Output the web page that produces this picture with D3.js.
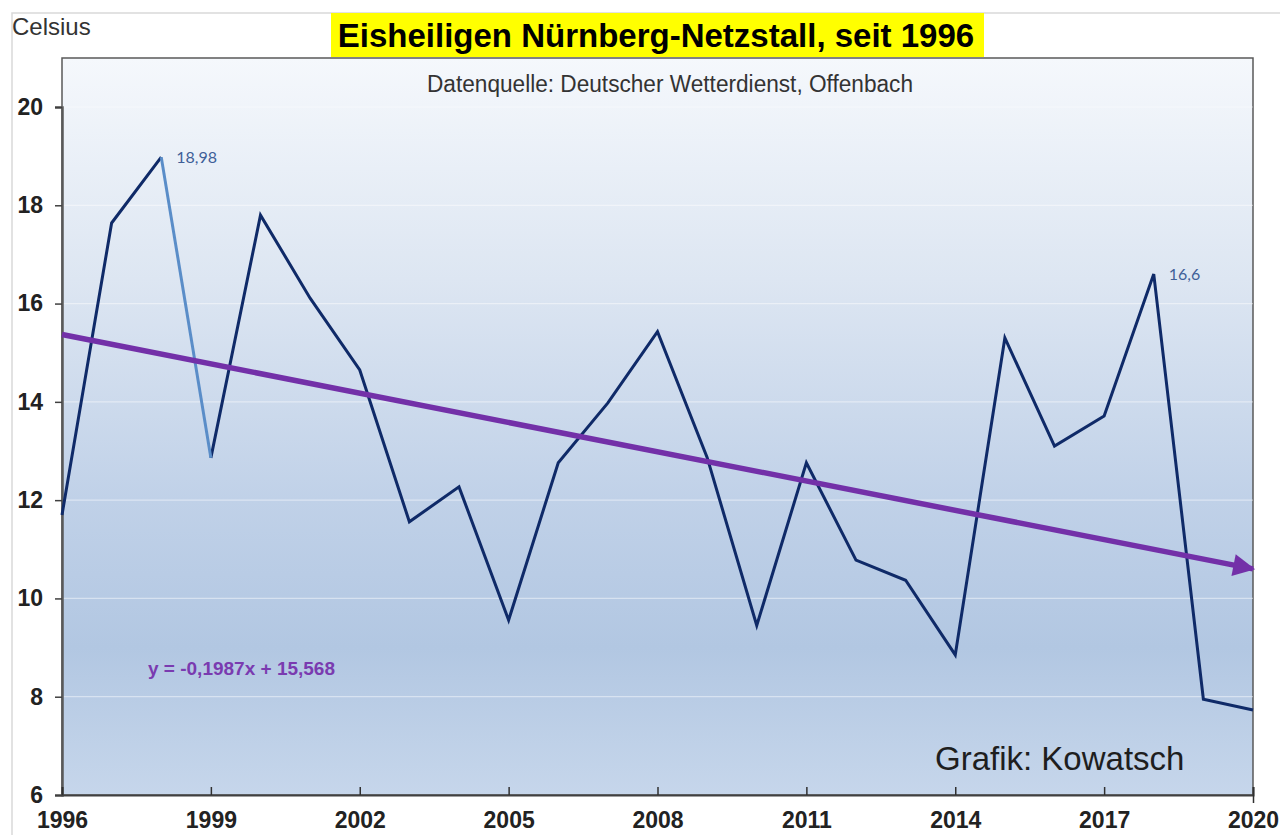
<!DOCTYPE html>
<html><head><meta charset="utf-8">
<script src="https://cdn.jsdelivr.net/npm/d3@7"></script>
<style>
html,body{margin:0;padding:0;background:#fff;}
svg{display:block;}
</style></head>
<body>
<svg id="chart" width="1280" height="835"></svg>
<script>
const years = [1996,1997,1998,1999,2000,2001,2002,2003,2004,2005,2006,2007,2008,2009,2010,2011,2012,2013,2014,2015,2016,2017,2018,2019,2020];
const temps = [11.7,17.64,18.98,12.86,17.8,16.11,14.65,11.56,12.27,9.56,12.76,13.98,15.43,12.87,9.45,12.76,10.78,10.37,8.85,15.3,13.1,13.71,16.6,7.95,7.73];
const xTicks = [1996,1999,2002,2005,2008,2011,2014,2017,2020];
const yTicks = [6,8,10,12,14,16,18,20];
const trendSlope = -0.1987, trendIntercept = 15.568;
const labelled = [{year:1998, text:"18,98"},{year:2018, text:"16,6"}];
const highlightYears = [1998,1999];
const titleText = "Eisheiligen Nürnberg-Netzstall, seit 1996";
const subtitleText = "Datenquelle: Deutscher Wetterdienst, Offenbach";
const equationText = "y = -0,1987x + 15,568";
const creditText = "Grafik: Kowatsch";
const unitText = "Celsius";

const svg = d3.select("#chart");
const L=62, R=1253, T=58, B=795;
const x = d3.scaleLinear().domain([1996,2020]).range([L,R]);
const y = d3.scaleLinear().domain([6,20]).range([B,107]);
const FONT = "Liberation Sans, Arial, sans-serif";

const defs = svg.append("defs");
const g = defs.append("linearGradient").attr("id","bg").attr("x1",0).attr("y1",0).attr("x2",0).attr("y2",1);
[[0,"#f5f8fc"],[0.3,"#dde6f2"],[0.6,"#c0d1e8"],[0.8,"#b2c7e2"],[1,"#c6d6eb"]].forEach(s=>g.append("stop").attr("offset",s[0]).attr("stop-color",s[1]));
const mk = defs.append("marker").attr("id","arrow").attr("viewBox","0 0 10 10").attr("refX",9).attr("refY",5)
  .attr("markerWidth",5).attr("markerHeight",4).attr("markerUnits","strokeWidth").attr("orient","auto");
mk.append("path").attr("d","M0,0 L10,5 L0,10 z").attr("fill","#7330a8");

// outer frame
svg.append("rect").attr("x",12).attr("y",13).attr("width",1290).attr("height",840).attr("fill","#fff").attr("stroke","#d9d9d9").attr("stroke-width",1.5);

// plot area
svg.append("rect").attr("x",L).attr("y",T).attr("width",R-L).attr("height",B-T).attr("fill","url(#bg)").attr("stroke","#595959").attr("stroke-width",1.5);

// gridlines
svg.append("g").selectAll("line").data(yTicks.filter(d=>d>6)).join("line")
  .attr("x1",L).attr("x2",R).attr("y1",d=>y(d)).attr("y2",d=>y(d))
  .attr("stroke","#ffffff").attr("stroke-opacity",0.45).attr("stroke-width",1.2);

// axes
const yAxis = svg.append("g").attr("transform",`translate(${L},0)`)
  .call(d3.axisLeft(y).tickValues(yTicks).tickSize(7).tickPadding(12).tickFormat(d3.format("d")));
yAxis.select(".domain").attr("stroke","#595959").attr("stroke-width",2.5);
yAxis.selectAll(".tick line").attr("stroke","#404040").attr("stroke-width",1.5);
yAxis.selectAll("text").attr("font-family",FONT).attr("font-weight","bold").attr("font-size","23px").attr("fill","#222");

const xAxis = svg.append("g").attr("transform",`translate(0,${B})`)
  .call(d3.axisBottom(x).tickValues(xTicks).tickSize(-8).tickPadding(17).tickFormat(d3.format("d")));
xAxis.select(".domain").attr("stroke","#404040").attr("stroke-width",2);
xAxis.selectAll(".tick line").attr("stroke","#303030").attr("stroke-width",1.5);
xAxis.selectAll(".tick").filter(d=>d===2020).select("line").attr("y2",-8).attr("y1",8);
xAxis.selectAll("text").attr("font-family",FONT).attr("font-weight","bold").attr("font-size","23px").attr("fill","#222");

// data line
const pts = years.map((yr,i)=>({yr, v:temps[i]}));
const line = d3.line().x(d=>x(d.yr)).y(d=>y(d.v));
const hA = highlightYears[0], hB = highlightYears[1];
svg.append("path").datum(pts.filter(d=>d.yr<=hA)).attr("d",line).attr("fill","none").attr("stroke","#0f2a68").attr("stroke-width",3);
svg.append("path").datum(pts.filter(d=>d.yr>=hB)).attr("d",line).attr("fill","none").attr("stroke","#0f2a68").attr("stroke-width",3);
svg.append("path").datum(pts.filter(d=>d.yr>=hA&&d.yr<=hB)).attr("d",line).attr("fill","none").attr("stroke","#5a8dc8").attr("stroke-width",3);

// trend line
const tr = [years[0], years[years.length-1]].map(yr=>({yr, v: trendSlope*(yr-1995)+trendIntercept}));
svg.append("path").datum(tr).attr("d",line).attr("fill","none").attr("stroke","#7330a8").attr("stroke-width",5.5).attr("marker-end","url(#arrow)");

// data labels
svg.append("g").selectAll("text").data(labelled).join("text")
  .attr("x",d=>x(d.year)+15).attr("y",d=>y(temps[years.indexOf(d.year)])+6)
  .attr("font-family","Lato, Open Sans, sans-serif").attr("font-size","16px").attr("fill","#3f5f98").text(d=>d.text);

// equation
svg.append("text").attr("x",148).attr("y",675).attr("font-family",FONT).attr("font-weight","bold")
  .attr("font-size","19px").attr("fill","#7a3bb0").text(equationText);

// credit
svg.append("text").attr("x",935).attr("y",770).attr("font-family",FONT)
  .attr("font-size","33px").attr("fill","#1e1e1e").text(creditText);

// unit
svg.append("text").attr("x",12).attr("y",35).attr("font-family",FONT)
  .attr("font-size","24px").attr("fill","#333").text(unitText);

// title
svg.append("rect").attr("x",331).attr("y",13).attr("width",653).attr("height",44).attr("fill","#ffff00");
svg.append("text").attr("x",656).attr("y",47).attr("text-anchor","middle").attr("font-family",FONT)
  .attr("font-weight","bold").attr("font-size","33px").attr("fill","#000").text(titleText);

// subtitle
svg.append("text").attr("x",670).attr("y",92).attr("text-anchor","middle").attr("font-family",FONT)
  .attr("font-size","23px").attr("textLength",486).attr("lengthAdjust","spacingAndGlyphs").attr("fill","#333").text(subtitleText);
</script>
</body></html>
